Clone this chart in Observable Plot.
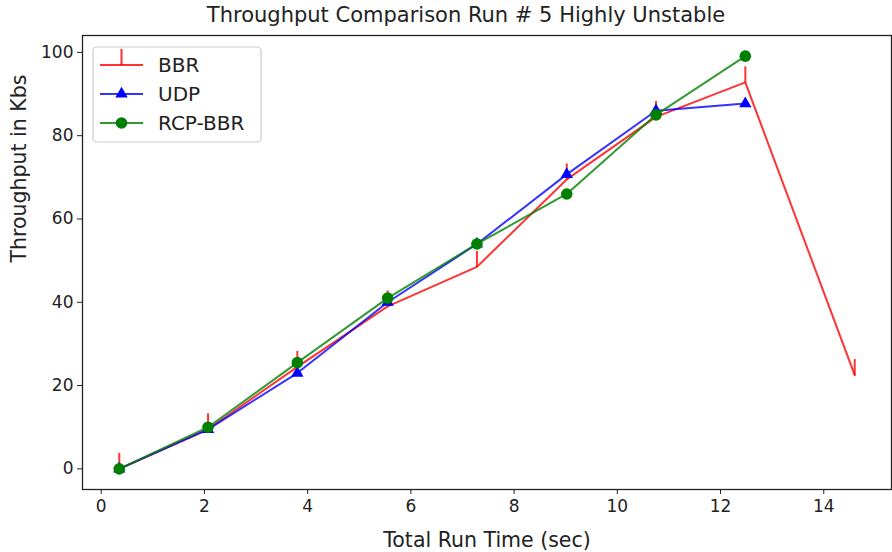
<!DOCTYPE html>
<html>
<head>
<meta charset="utf-8">
<script src="https://cdn.jsdelivr.net/npm/d3@7"></script>
<script src="https://cdn.jsdelivr.net/npm/@observablehq/plot@0.6"></script>
<style>
  html, body { margin: 0; padding: 0; background: #fff; }
  #chart { width: 892px; height: 552px; }
</style>
</head>
<body>
<div id="chart"></div>
<script>
const title = "Throughput Comparison Run # 5 Highly Unstable";
const xLabel = "Total Run Time (sec)";
const yLabel = "Throughput in Kbs";
const seriesNames = ["BBR", "UDP", "RCP-BBR"];
const seriesColors = ["#ff0000", "#0000ff", "#008000"];

const bbrTime = [0.35, 2.07, 3.8, 5.55, 7.28, 9.02, 10.75, 12.48, 14.6];
const bbrValues = [0, 9.5, 24.5, 39, 48.5, 69.5, 84.5, 92.8, 22.5];
const udpTime = [0.35, 2.07, 3.8, 5.55, 7.28, 9.02, 10.75, 12.48];
const udpValues = [0, 9.5, 23, 40, 54, 70.7, 86, 87.7];
const rcpTime = [0.35, 2.07, 3.8, 5.55, 7.28, 9.02, 10.75, 12.48];
const rcpValues = [0, 10, 25.5, 41, 54, 66, 85, 99.1];

const xTicks = [0, 2, 4, 6, 8, 10, 12, 14];
const yTicks = [0, 20, 40, 60, 80, 100];

const toRows = (xs, ys) => xs.map((x, i) => ({x, y: ys[i]}));
const bbr = toRows(bbrTime, bbrValues);
const udp = toRows(udpTime, udpValues);
const rcp = toRows(rcpTime, rcpValues);

// matplotlib-like 5% margins
const allX = [...bbrTime, ...udpTime, ...rcpTime];
const allY = [...bbrValues, ...udpValues, ...rcpValues];
const [x0, x1] = d3.extent(allX);
const [y0, y1] = d3.extent(allY);
const xDomain = [x0 - 0.05 * (x1 - x0), x1 + 0.05 * (x1 - x0)];
const yDomain = [y0 - 0.05 * (y1 - y0), y1 + 0.05 * (y1 - y0)];

const tickUp = {draw(ctx) { ctx.moveTo(0, 0); ctx.lineTo(0, -16); }};
const font = "'DejaVu Sans', sans-serif";

const plot = Plot.plot({
  width: 892,
  height: 552,
  marginLeft: 82,
  marginRight: 1,
  marginTop: 35,
  marginBottom: 63,
  style: {fontFamily: font, color: "#222", background: "#fff", overflow: "visible"},
  x: {domain: xDomain},
  y: {domain: yDomain},
  marks: [
    Plot.line(bbr, {x: "x", y: "y", stroke: seriesColors[0], strokeWidth: 2, strokeOpacity: 0.8}),
    Plot.dot(bbr, {x: "x", y: "y", symbol: tickUp, stroke: seriesColors[0], fill: "none", strokeWidth: 2, strokeOpacity: 0.8}),
    Plot.line(udp, {x: "x", y: "y", stroke: seriesColors[1], strokeWidth: 2, strokeOpacity: 0.8}),
    Plot.dot(udp, {x: "x", y: "y", symbol: "triangle", r: 4.6, fill: seriesColors[1], stroke: "none"}),
    Plot.line(rcp, {x: "x", y: "y", stroke: seriesColors[2], strokeWidth: 2, strokeOpacity: 0.8}),
    Plot.dot(rcp, {x: "x", y: "y", r: 5.8, fill: seriesColors[2], stroke: "none"}),
    Plot.frame({stroke: "#222", strokeWidth: 1.3}),
    Plot.axisX({ticks: xTicks, tickSize: 5, tickPadding: 5, fontSize: 17, label: null, stroke: "#222"}),
    Plot.axisY({ticks: yTicks, tickSize: 5, tickPadding: 4, fontSize: 17, label: null, stroke: "#222"}),
    Plot.text([title], {frameAnchor: "top", lineAnchor: "middle", dy: -20, dx: -21, fontSize: 21, fill: "#222"}),
    Plot.text([xLabel], {frameAnchor: "bottom", lineAnchor: "middle", dy: 51, fontSize: 20.5, fill: "#222"}),
    Plot.text([yLabel], {frameAnchor: "left", lineAnchor: "middle", dx: -63, rotate: -90, fontSize: 20.5, fill: "#222"})
  ]
});

// Legend
const svg = d3.select(plot);
const lg = svg.append("g").attr("font-family", font);
lg.append("rect").attr("x", 93).attr("y", 47).attr("width", 168).attr("height", 95)
  .attr("rx", 4).attr("fill", "#fff").attr("fill-opacity", 0.8).attr("stroke", "#ccc").attr("stroke-width", 1.2);
const entryY = [65, 94, 123];
seriesNames.forEach((name, i) => {
  const y = entryY[i];
  const c = seriesColors[i];
  lg.append("line").attr("x1", 100).attr("x2", 143).attr("y1", y).attr("y2", y)
    .attr("stroke", c).attr("stroke-width", 2).attr("stroke-opacity", 0.8);
  if (i === 0) {
    lg.append("line").attr("x1", 121.5).attr("x2", 121.5).attr("y1", y).attr("y2", y - 16)
      .attr("stroke", c).attr("stroke-width", 2).attr("stroke-opacity", 0.8);
  } else if (i === 1) {
    lg.append("path").attr("transform", `translate(121.5,${y})`)
      .attr("d", d3.symbol(d3.symbolTriangle, Math.PI * 4.6 * 4.6)()).attr("fill", c);
  } else {
    lg.append("circle").attr("cx", 121.5).attr("cy", y).attr("r", 5.8).attr("fill", c);
  }
  lg.append("text").attr("x", 158).attr("y", y).attr("dy", "0.36em").attr("text-anchor", "start")
    .attr("font-size", 20).attr("fill", "#222").text(name);
});

document.getElementById("chart").appendChild(plot);
</script>
</body>
</html>
